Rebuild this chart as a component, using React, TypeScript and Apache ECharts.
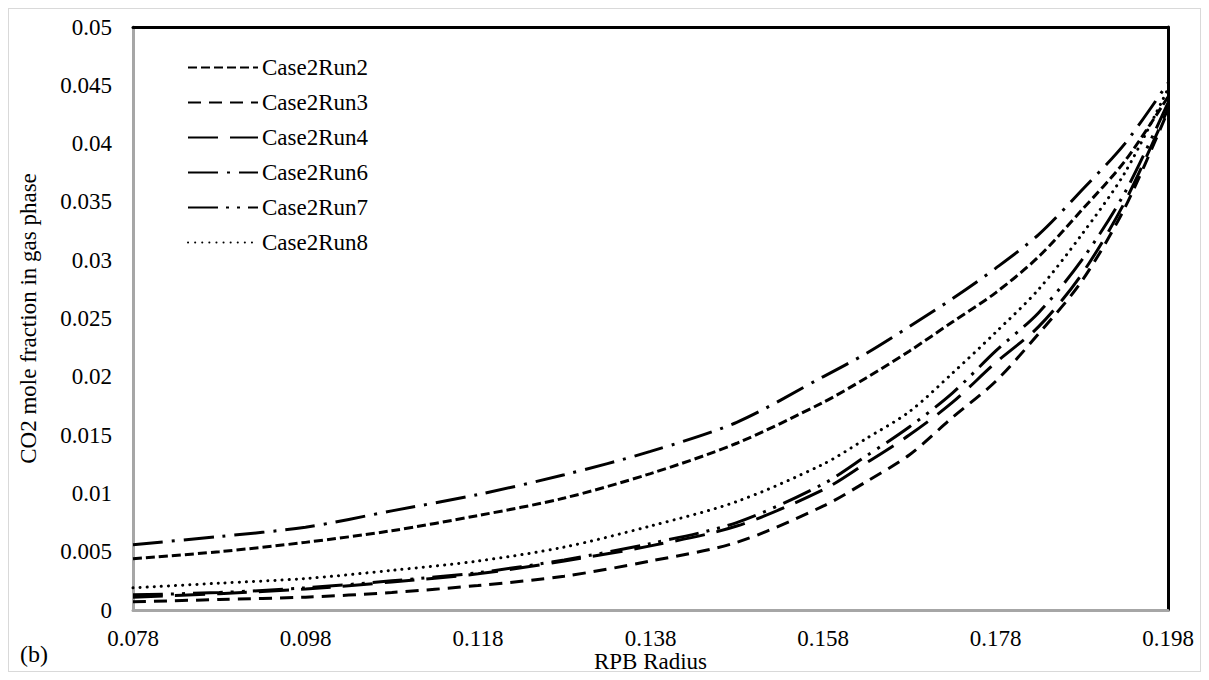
import React, { useEffect, useRef } from "react";
import * as echarts from "echarts";

const xValues = [0.078, 0.088, 0.098, 0.108, 0.118, 0.128, 0.138, 0.148, 0.158, 0.163, 0.168, 0.173, 0.178, 0.183, 0.188, 0.193, 0.198];
const run2 = [0.0044, 0.0050, 0.0058, 0.0068, 0.0081, 0.0096, 0.0117, 0.0143, 0.0178, 0.0199, 0.0222, 0.0247, 0.0272, 0.0303, 0.0343, 0.0385, 0.0440];
const run3 = [0.0007, 0.0009, 0.0011, 0.0015, 0.0021, 0.0029, 0.0042, 0.0058, 0.0089, 0.0110, 0.0133, 0.0165, 0.0196, 0.0237, 0.0282, 0.0345, 0.0428];
const run4 = [0.0011, 0.0014, 0.0018, 0.0024, 0.0031, 0.0042, 0.0055, 0.0072, 0.0103, 0.0126, 0.0150, 0.0178, 0.0212, 0.0243, 0.0288, 0.0350, 0.0430];
const run6 = [0.0056, 0.0063, 0.0071, 0.0085, 0.0099, 0.0116, 0.0136, 0.0161, 0.0200, 0.0220, 0.0243, 0.0267, 0.0293, 0.0322, 0.0360, 0.0400, 0.0452];
const run7 = [0.0013, 0.0015, 0.0019, 0.0025, 0.0032, 0.0043, 0.0057, 0.0075, 0.0108, 0.0132, 0.0157, 0.0186, 0.0222, 0.0255, 0.0300, 0.0358, 0.0435];
const run8 = [0.0019, 0.0023, 0.0027, 0.0034, 0.0042, 0.0054, 0.0072, 0.0093, 0.0125, 0.0147, 0.0170, 0.0203, 0.0238, 0.0275, 0.0322, 0.0375, 0.0447];

const seriesNames = ["Case2Run2", "Case2Run3", "Case2Run4", "Case2Run6", "Case2Run7", "Case2Run8"];
const seriesValues = [run2, run3, run4, run6, run7, run8];
const xTickLabels = [0.078, 0.098, 0.118, 0.138, 0.158, 0.178, 0.198];

const dashPatterns: any[] = [
  { type: [9, 4], cap: "butt" },
  { type: [13, 8], cap: "butt" },
  { type: [30, 12], cap: "butt" },
  { type: [30, 9, 3, 9], cap: "butt" },
  { type: [30, 8, 3, 8, 3, 8], cap: "butt" },
  { type: [0.1, 7], cap: "round" },
];

const FONT = "Liberation Serif";

export default function App() {
  const ref = useRef<HTMLDivElement>(null);
  useEffect(() => {
    if (!ref.current) return;
    const chart = echarts.init(ref.current, undefined, { renderer: "svg" });
    const series = seriesNames.map((name, i) => ({
      name,
      type: "line",
      xAxisIndex: 0,
      yAxisIndex: 0,
      smooth: 0.3,
      symbol: "none",
      showSymbol: false,
      data: xValues.map((x, j) => [x, seriesValues[i][j]]),
      lineStyle: {
        color: "#000",
        width: 3,
        type: dashPatterns[i].type,
        cap: dashPatterns[i].cap,
      },
      itemStyle: { color: "#000" },
    }));
    chart.setOption({
      animation: false,
      backgroundColor: "transparent",
      grid: {
        left: 125,
        right: 33,
        top: 19,
        bottom: 62,
        containLabel: false,
        outerBoundsMode: "none",
      },
      legend: {
        orient: "vertical",
        left: 174,
        top: 43,
        itemWidth: 70,
        itemHeight: 14,
        itemGap: 12,
        data: seriesNames,
        itemStyle: { opacity: 0 },
        textStyle: { fontFamily: FONT, fontSize: 23, lineHeight: 23, color: "#000", padding: [0, 0, 0, -1] },
      },
      xAxis: [
        {
          type: "value",
          min: 0.078,
          max: 0.198,
          position: "bottom",
          name: "RPB Radius",
          nameLocation: "middle",
          nameGap: 40,
          nameMoveOverlap: false,
          nameTextStyle: { fontFamily: FONT, fontSize: 23, color: "#000" },
          axisLine: { show: true, onZero: false, lineStyle: { color: "#a6a6a6", width: 3 } },
          axisTick: { show: false },
          splitLine: { show: false },
          axisLabel: {
            customValues: xTickLabels,
            fontFamily: FONT,
            fontSize: 23,
            color: "#000",
            margin: 17,
            formatter: (v: number) => v.toFixed(3),
          },
        },
        {
          type: "value",
          min: 0.078,
          max: 0.198,
          position: "top",
          axisLine: { show: true, onZero: false, lineStyle: { color: "#000", width: 3 } },
          axisTick: { show: false },
          axisLabel: { show: false },
          splitLine: { show: false },
        },
      ],
      yAxis: [
        {
          type: "value",
          min: 0,
          max: 0.05,
          interval: 0.005,
          position: "left",
          name: "CO2 mole fraction in gas phase",
          nameLocation: "middle",
          nameGap: 93,
          nameMoveOverlap: false,
          nameTextStyle: { fontFamily: FONT, fontSize: 23, color: "#000" },
          axisLine: { show: true, onZero: false, lineStyle: { color: "#a6a6a6", width: 3 } },
          axisTick: { show: false },
          splitLine: { show: false },
          axisLabel: { fontFamily: FONT, fontSize: 23, color: "#000", margin: 21 },
        },
        {
          type: "value",
          min: 0,
          max: 0.05,
          interval: 0.005,
          position: "right",
          axisLine: { show: true, onZero: false, lineStyle: { color: "#000", width: 3 } },
          axisTick: { show: false },
          axisLabel: { show: false },
          splitLine: { show: false },
        },
      ],
      graphic: [
        {
          type: "text",
          left: 12,
          top: 634,
          style: { text: "(b)", fontFamily: FONT, fontSize: 24, fill: "#000" },
        },
      ],
      series,
    });
    return () => chart.dispose();
  }, []);
  return (
    <div
      style={{
        position: "relative",
        width: 1193,
        height: 664,
        border: "1px solid #d9d9d9",
        boxSizing: "border-box",
        background: "#fff",
      }}
    >
      <div
        ref={ref}
        style={{ position: "absolute", left: -1, top: -1, width: 1193, height: 664 }}
      />
    </div>
  );
}
